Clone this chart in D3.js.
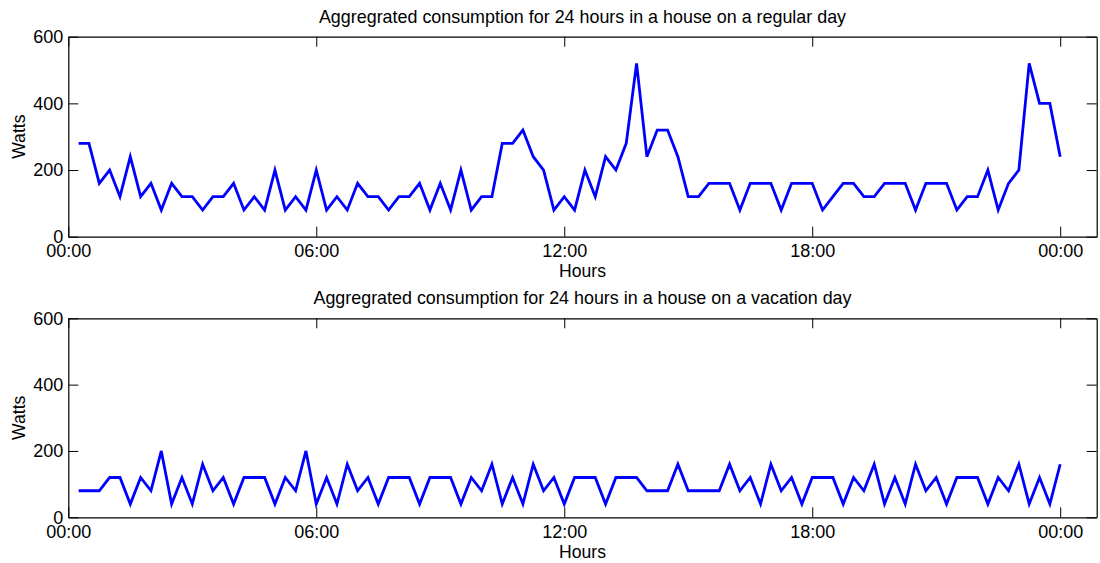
<!DOCTYPE html>
<html>
<head>
<meta charset="utf-8">
<script src="https://cdn.jsdelivr.net/npm/d3@7/dist/d3.min.js"></script>
<style>
  html, body { margin: 0; padding: 0; background: #fff; }
  svg { display: block; }
  text { font-family: "Liberation Sans", Arial, Helvetica, sans-serif; fill: #000; }
</style>
</head>
<body>
<svg id="chart" width="1100" height="563"></svg>
<script>
// Power readings in watts, one every 15 minutes from 00:15 to 24:00
const regularDay = [
  280, 280, 160, 200, 120, 240, 120, 160, 80, 160, 120, 120,
  80, 120, 120, 160, 80, 120, 80, 200, 80, 120, 80, 200,
  80, 120, 80, 160, 120, 120, 80, 120, 120, 160, 80, 160,
  80, 200, 80, 120, 120, 280, 280, 320, 240, 200, 80, 120,
  80, 200, 120, 240, 200, 280, 520, 240, 320, 320, 240, 120,
  120, 160, 160, 160, 80, 160, 160, 160, 80, 160, 160, 160,
  80, 120, 160, 160, 120, 120, 160, 160, 160, 80, 160, 160,
  160, 80, 120, 120, 200, 80, 160, 200, 520, 400, 400, 240
];

const vacationDay = [
  80, 80, 80, 120, 120, 40, 120, 80, 200, 40, 120, 40,
  160, 80, 120, 40, 120, 120, 120, 40, 120, 80, 200, 40,
  120, 40, 160, 80, 120, 40, 120, 120, 120, 40, 120, 120,
  120, 40, 120, 80, 160, 40, 120, 40, 160, 80, 120, 40,
  120, 120, 120, 40, 120, 120, 120, 80, 80, 80, 160, 80,
  80, 80, 80, 160, 80, 120, 40, 160, 80, 120, 40, 120,
  120, 120, 40, 120, 80, 160, 40, 120, 40, 160, 80, 120,
  40, 120, 120, 120, 40, 120, 80, 160, 40, 120, 40, 160
];

const panelTitles = [
  "Aggregrated consumption for 24 hours in a house on a regular day",
  "Aggregrated consumption for 24 hours in a house on a vacation day"
];
const xTickHours = [0, 6, 12, 18, 24];
const yTickValues = [0, 200, 400, 600];
const xLabel = "Hours";
const yLabel = "Watts";

// Timestamps for the 15-minute samples
const dayStart = new Date(2000, 0, 1, 0, 0);
const sampleTimes = regularDay.map((_, i) => d3.timeMinute.offset(dayStart, 15 * (i + 1)));
const xEnd = d3.timeMinute.offset(dayStart, Math.round(24.89 * 60));
const xTicks = xTickHours.map(h => d3.timeHour.offset(dayStart, h));

const svg = d3.select("#chart");
const left = 68.3, right = 1096.7;
const panels = [
  { top: 36.7, height: 200, values: regularDay, title: panelTitles[0] },
  { top: 318.3, height: 199, values: vacationDay, title: panelTitles[1] }
];

const x = d3.scaleTime().domain([dayStart, xEnd]).range([left, right]);
const fmt = d3.timeFormat("%H:%M");
const TICK_FONT = 18;
const LABEL_FONT = 17.6;
const TITLE_FONT = 17.9;

panels.forEach(p => {
  const y = d3.scaleLinear().domain([0, 600]).range([p.top + p.height, p.top]);
  const g = svg.append("g");

  // data line
  const line = d3.line()
    .x((d, i) => x(sampleTimes[i]))
    .y(d => y(d));
  g.append("path")
    .datum(p.values)
    .attr("d", line)
    .attr("fill", "none")
    .attr("stroke", "#0000ff")
    .attr("stroke-width", 2.8)
    .attr("stroke-linejoin", "miter");

  // box frame with inward ticks on all four sides
  const bottomAxis = d3.axisBottom(x).tickValues(xTicks).tickSizeInner(-10).tickSizeOuter(0).tickFormat(fmt).tickPadding(8);
  const topAxis = d3.axisTop(x).tickValues(xTicks).tickSizeInner(-10).tickSizeOuter(0).tickFormat("");
  const leftAxis = d3.axisLeft(y).tickValues(yTickValues).tickSizeInner(-10).tickSizeOuter(0).tickPadding(5);
  const rightAxis = d3.axisRight(y).tickValues(yTickValues).tickSizeInner(-10).tickSizeOuter(0).tickFormat("");

  const styleAxis = sel => {
    sel.select(".domain").attr("stroke", "#000").attr("stroke-width", 1.2);
    sel.selectAll(".tick line").attr("stroke", "#000").attr("stroke-width", 1);
    sel.selectAll(".tick text").style("font-size", TICK_FONT + "px").attr("fill", "#000");
  };

  g.append("g").attr("transform", `translate(0,${p.top + p.height})`).call(bottomAxis).call(styleAxis)
    .selectAll(".tick text").attr("dy", "0.71em");
  g.append("g").attr("transform", `translate(0,${p.top})`).call(topAxis).call(styleAxis);
  g.append("g").attr("transform", `translate(${left},0)`).call(leftAxis).call(styleAxis);
  g.append("g").attr("transform", `translate(${right},0)`).call(rightAxis).call(styleAxis);

  // titles and axis labels
  g.append("text")
    .attr("x", (left + right) / 2)
    .attr("y", p.top - 14)
    .attr("text-anchor", "middle")
    .style("font-size", TITLE_FONT + "px")
    .text(p.title);

  g.append("text")
    .attr("x", (left + right) / 2)
    .attr("y", p.top + p.height + 40.6)
    .attr("text-anchor", "middle")
    .style("font-size", LABEL_FONT + "px")
    .text(xLabel);

  g.append("text")
    .attr("transform", `translate(25,${p.top + p.height / 2}) rotate(-90)`)
    .attr("text-anchor", "middle")
    .style("font-size", LABEL_FONT + "px")
    .text(yLabel);
});
</script>
</body>
</html>
